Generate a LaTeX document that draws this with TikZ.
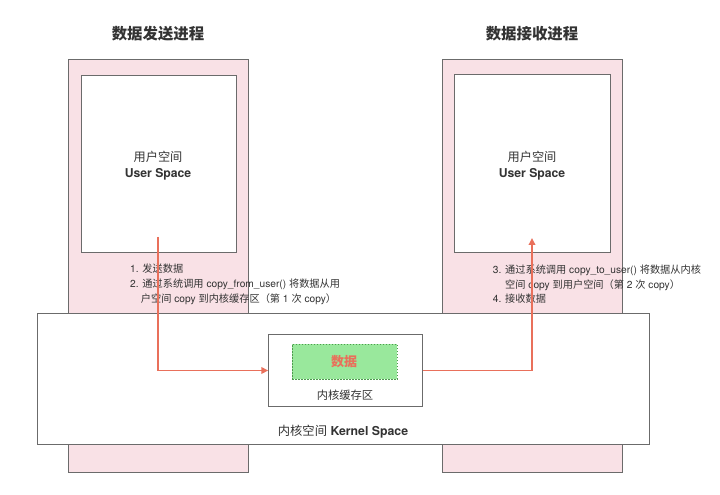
\documentclass[tikz,border=0pt]{standalone}
\usepackage{fontspec}
\setmainfont{TeX Gyre Heros}
\newfontfamily\cjk{Noto Sans CJK SC}
\newcommand{\zh}[1]{{\cjk #1}}
\usetikzlibrary{arrows.meta}
\definecolor{pinkfill}{HTML}{F9E1E6}
\definecolor{edgegray}{HTML}{6B6B6B}
\definecolor{redline}{HTML}{E9705B}
\definecolor{greenfill}{HTML}{99E89C}
\definecolor{greenedge}{HTML}{4E9A4E}
\definecolor{txt}{HTML}{333333}
\tikzset{
  pinkbox/.style={draw=edgegray, fill=pinkfill, line width=1bp, inner sep=0pt, anchor=north west},
  whitebox/.style={draw=edgegray, fill=white, line width=1bp, inner sep=0pt, anchor=north west},
  greenbox/.style={draw=greenedge, fill=greenfill, dashed, dash pattern=on 1.5bp off 1.5bp, line width=0.9bp, inner sep=0pt, anchor=north west},
  redarrow/.style={draw=redline, line width=1.8bp, -{Triangle[length=7bp,width=6.5bp]}},
  smalltext/.style={text=txt, inner sep=0pt, anchor=base west, font=\fontsize{10.2bp}{12bp}\selectfont},
  titletext/.style={text=txt, inner sep=0pt, font=\fontsize{15.4bp}{18bp}\selectfont\bfseries},
}
\begin{document}
\begin{tikzpicture}[x=1bp,y=-1bp]
\useasboundingbox (0,0) rectangle (720,495);
% process columns
\node[pinkbox, minimum width=179.4bp, minimum height=413.3bp] (lcol) at (68.3,59) {};
\node[pinkbox, minimum width=179.4bp, minimum height=413.3bp] (rcol) at (442.3,59) {};
% titles
\node[titletext] (ltitle) at (158,34) {\zh{\bfseries 数据发送进程}};
\node[titletext] (rtitle) at (532,34) {\zh{\bfseries 数据接收进程}};
% user spaces
\node[whitebox, minimum width=155bp, minimum height=177bp] (luser) at (81,75) {};
\node[whitebox, minimum width=155.4bp, minimum height=177.8bp] (ruser) at (454.3,74.5) {};
\node[text=txt, inner sep=0pt, font=\fontsize{12.2bp}{14bp}\selectfont] (lus1) at (158,157) {\zh{用户空间}};
\node[text=txt, inner sep=0pt, font=\fontsize{12.2bp}{14bp}\selectfont\bfseries] (lus2) at (158,174) {User Space};
\node[text=txt, inner sep=0pt, font=\fontsize{12.2bp}{14bp}\selectfont] (rus1) at (532,157) {\zh{用户空间}};
\node[text=txt, inner sep=0pt, font=\fontsize{12.2bp}{14bp}\selectfont\bfseries] (rus2) at (532,174) {User Space};
% step texts
\node[smalltext] (l1) at (130,273) {1. \zh{发送数据}};
\node[smalltext] (l2) at (130,287.5) {2. \zh{通过系统调用} copy\_from\_user() \zh{将数据从用}};
\node[smalltext] (l3) at (140.7,302) {\zh{户空间} copy \zh{到内核缓存区（第} 1 \zh{次} copy\zh{）}};
\node[smalltext] (r1) at (492.7,274) {3. \zh{通过系统调用} copy\_to\_user() \zh{将数据从内核}};
\node[smalltext] (r2) at (505,288.3) {\zh{空间} copy \zh{到用户空间（第} 2 \zh{次} copy\zh{）}};
\node[smalltext] (r3) at (492.7,302.3) {4. \zh{接收数据}};
% kernel space
\node[whitebox, minimum width=612.6bp, minimum height=131.6bp] (kernel) at (36.7,312.7) {};
\node[text=txt, inner sep=0pt, font=\fontsize{12.3bp}{14bp}\selectfont] (klabel) at (343,432) {\zh{内核空间} \textbf{Kernel Space}};
% buffer
\node[whitebox, minimum width=153.4bp, minimum height=72bp] (buf) at (268.3,334) {};
\node[greenbox, minimum width=105bp, minimum height=35bp] (data) at (291.7,344) {};
\node[text=redline, inner sep=0pt, font=\fontsize{13bp}{15bp}\selectfont] (datalabel) at (344,362) {\zh{\bfseries 数据}};
\node[text=txt, inner sep=0pt, font=\fontsize{11.3bp}{13bp}\selectfont] (buflabel) at (345,395) {\zh{内核缓存区}};
% connectors
\coordinate (s1) at (157.7,237);
\coordinate (e2) at (532,238);
\draw[redarrow] (s1) |- (buf.west);
\draw[redarrow] (buf.east) -| (e2);
\end{tikzpicture}
\end{document}
